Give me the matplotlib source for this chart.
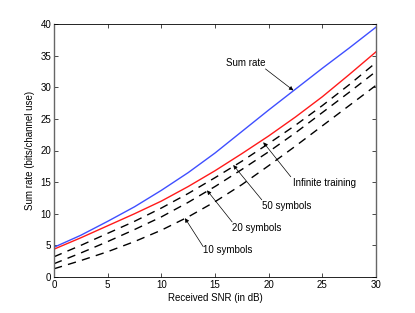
import matplotlib
matplotlib.use("Agg")
import matplotlib.pyplot as plt

plt.rcParams['font.family'] = ['Liberation Sans', 'DejaVu Sans']

snr = [0, 2.5, 5, 7.5, 10, 12.5, 15, 17.5, 20, 22.5, 25, 27.5, 30]
sum_rate = [4.7, 6.6, 8.8, 11.1, 13.7, 16.5, 19.6, 23.0, 26.4, 29.7, 33.0, 36.2, 39.5]
infinite = [4.4, 6.2, 8.1, 10.0, 12.0, 14.3, 16.8, 19.5, 22.3, 25.3, 28.5, 32.0, 35.6]
sym50 = [3.2, 5.0, 6.9, 8.8, 10.9, 13.2, 15.7, 18.3, 21.1, 24.0, 27.1, 30.4, 33.9]
sym20 = [2.1, 3.8, 5.6, 7.5, 9.5, 11.8, 14.3, 17.0, 19.8, 22.8, 26.0, 29.2, 32.5]
sym10 = [1.3, 2.6, 4.0, 5.6, 7.4, 9.5, 11.9, 14.6, 17.6, 20.7, 23.9, 27.1, 30.3]

xticks = [0, 5, 10, 15, 20, 25, 30]
yticks = [0, 5, 10, 15, 20, 25, 30, 35, 40]

fig = plt.figure(figsize=(4.15, 3.13), dpi=100)
ax = fig.add_axes([54/415, 1-277/313, 322/415, 253/313])

ax.plot(snr, sum_rate, color='#3f4fff', lw=1.0)
ax.plot(snr, infinite, color='#ff1a1a', lw=1.0)
for s in (sym50, sym20, sym10):
    ax.plot(snr, s, color='black', lw=1.0, dashes=(6, 4.5))

ax.set_xlim(0, 30)
ax.set_ylim(0, 40)
ax.set_xticks(xticks)
ax.set_yticks(yticks)
fs = 7
ax.tick_params(direction='in', length=3, width=0.5, top=True, right=True,
               labelsize=fs, pad=2)
for sp in ax.spines.values():
    sp.set_linewidth(0.6)
ax.spines['left'].set_color('#666666')
ax.spines['right'].set_color('#666666')
ax.spines['left'].set_linewidth(1.0)
ax.spines['right'].set_linewidth(1.0)

ax.set_xlabel('Received SNR (in dB)', fontsize=fs, labelpad=2)
ax.set_ylabel('Sum rate (bits/channel use)', fontsize=fs, labelpad=4)

ap = dict(arrowstyle='-|>', lw=0.5, color='black', mutation_scale=6,
          shrinkA=0, shrinkB=0)
ax.annotate('', xy=(22.3, 29.5), xytext=(19.7, 32.9), arrowprops=ap)
ax.text(17.85, 33.8, 'Sum rate', fontsize=fs, ha='center', va='center')

ax.annotate('', xy=(19.5, 21.3), xytext=(22.06, 15.85), arrowprops=ap)
ax.text(25.2, 14.8, 'Infinite training', fontsize=fs, ha='center', va='center')

ax.annotate('', xy=(16.7, 17.7), xytext=(19.36, 12.2), arrowprops=ap)
ax.text(21.7, 11.2, '50 symbols', fontsize=fs, ha='center', va='center')

ax.annotate('', xy=(14.26, 13.7), xytext=(16.6, 8.7), arrowprops=ap)
ax.text(18.9, 7.7, '20 symbols', fontsize=fs, ha='center', va='center')

ax.annotate('', xy=(12.2, 9.3), xytext=(13.9, 4.8), arrowprops=ap)
ax.text(16.2, 4.3, '10 symbols', fontsize=fs, ha='center', va='center')

fig.savefig('out.png', dpi=100)
